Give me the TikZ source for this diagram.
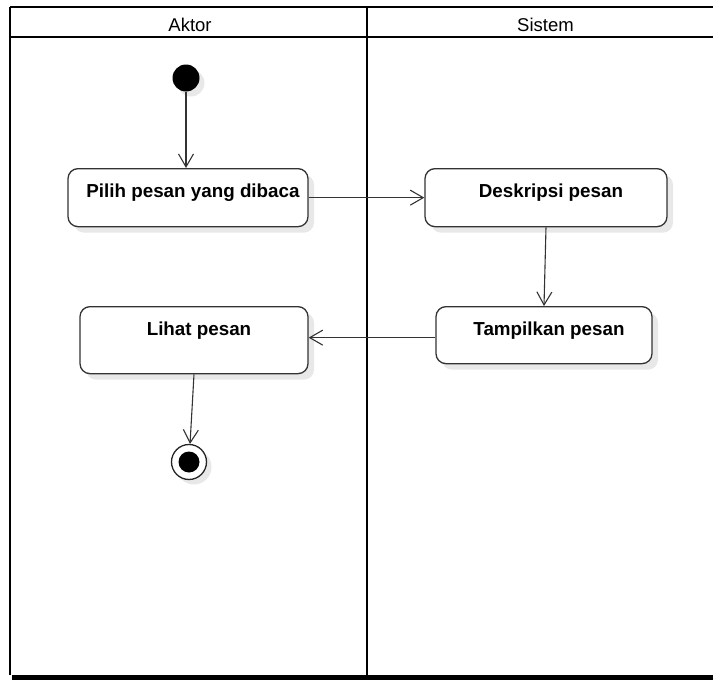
\documentclass[tikz,border=0pt]{standalone}
\usepackage{fontspec}
\setmainfont{Liberation Sans}
\usetikzlibrary{arrows.meta,shadows}

\begin{document}
\begin{tikzpicture}[x=1pt,y=-1pt,
  frame/.style={line width=2pt, draw=black},
  lanetitle/.style={font=\fontsize{18.5}{20}\selectfont},
  action/.style={draw=black!80, line width=1.3pt, rounded corners=10pt, fill=white,
    font=\fontsize{18.8}{20}\selectfont\bfseries, inner sep=0pt, text height=28.5pt,
    execute at begin node={\hspace*{10pt}},
    drop shadow={shadow xshift=6pt, shadow yshift=-6pt, fill=black!9, opacity=1}},
  startnode/.style={circle, fill=black, inner sep=0pt, minimum size=27pt,
    drop shadow={shadow xshift=5pt, shadow yshift=-5pt, fill=black!9, opacity=1}},
  endring/.style={circle, draw=black!85, line width=1.3pt, fill=white, inner sep=0pt, minimum size=35pt,
    drop shadow={shadow xshift=5pt, shadow yshift=-5pt, fill=black!9, opacity=1}},
  enddot/.style={circle, fill=black, inner sep=0pt, minimum size=21pt},
  flow/.style={draw=black!80, line width=1.1pt,
    -{Straight Barb[length=13pt,width=15pt,line width=1.1pt]}}
]
\useasboundingbox (0,0) rectangle (713,680);

% swimlane frame
\draw[frame] (10,7) -- (713,7);
\draw[frame] (10,37) -- (713,37);
\draw[frame] (10,7) -- (10,675);
\draw[frame] (367,7) -- (367,675);
\fill[black] (12,674.5) rectangle (713,680);

\node[lanetitle] (aktor) at (190,25) {Aktor};
\node[lanetitle] (sistem) at (545.5,25) {Sistem};

% activity nodes
\node[startnode] (start) at (186,78) {};
\node[action, anchor=north, minimum width=240pt, text depth=29.5pt] (pilih) at (188,168) {Pilih pesan yang dibaca};
\node[action, anchor=north, minimum width=242pt, text depth=29.5pt] (deskripsi) at (546,168) {Deskripsi pesan};
\node[action, anchor=north, minimum width=216pt, text depth=28.5pt] (tampilkan) at (544,306) {Tampilkan pesan};
\node[action, anchor=north, minimum width=228pt, text depth=38.5pt] (lihat) at (194,306) {Lihat pesan};
\node[endring] (end) at (189,462) {};
\node[enddot] (enddot) at (end) {};

% control flow
\draw[flow] (start) -- (start |- pilih.north);
\draw[flow] (pilih) -- (deskripsi);
\draw[flow] (deskripsi.south) -- (tampilkan.north);
\draw[flow] ([yshift=-2.5pt]tampilkan.west) -- ([yshift=-2.5pt]tampilkan.west -| lihat.east);
\draw[flow] (lihat.south) -- (end);
\end{tikzpicture}
\end{document}
